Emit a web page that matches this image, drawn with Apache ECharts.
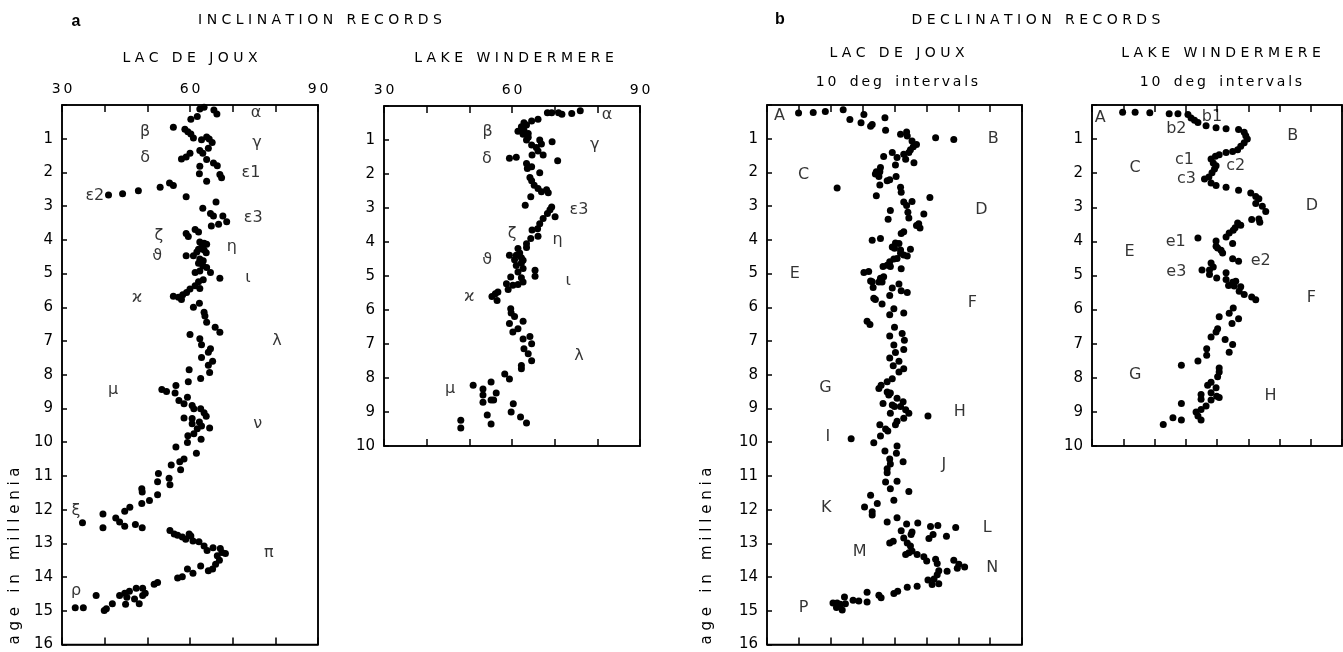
<!DOCTYPE html>
<html>
<head>
<meta charset="utf-8">
<title>Inclination and declination records</title>
<script src="https://cdn.jsdelivr.net/npm/echarts@6/dist/echarts.min.js"></script>
<style>
  html, body { margin: 0; padding: 0; background: #fff; }
  #chart { width: 1343px; height: 652px; }
</style>
</head>
<body>
<div id="chart"></div>
<script>
// inclination, Lac de Joux: [degrees, age in millenia]
const jouxIncl = [
  [62.3,0.12],[63.3,0.07],[65.6,0.15],[66.3,0.27],[60.2,0.42],[61.7,0.34],[56.1,0.66],[58.8,0.72],
  [59.5,0.79],[60.2,0.86],[60.8,0.98],[62.7,1.03],[63.9,0.95],[64.5,1.01],[65.2,1.11],[64.3,1.28],
  [62.3,1.35],[63.0,1.43],[60.0,1.43],[59.1,1.54],[58.0,1.60],[63.9,1.62],[65.5,1.72],[66.4,1.80],
  [62.3,1.82],[62.2,2.04],[67.0,2.06],[67.4,2.16],[63.9,2.26],
  [40.9,2.67],[44.2,2.63],[47.9,2.54],[53.0,2.44],[55.2,2.31],[56.1,2.39],[59.1,2.72],
  [63.0,3.06],[66.1,2.88],[64.8,3.22],[65.5,3.29],[67.7,3.29],[68.6,3.46],[66.7,3.54],[65.0,3.59],
  [59.1,3.81],[59.6,3.90],[61.2,3.69],[62.0,3.77],
  [62.3,4.06],[63.3,4.10],[63.9,4.13],[62.8,4.20],[63.3,4.30],[63.8,4.38],[62.0,4.28],[61.6,4.36],
  [60.8,4.47],[59.1,4.47],[62.3,4.57],[63.1,4.62],[62.0,4.69],[63.0,4.77],[63.9,4.82],[62.3,4.92],
  [61.2,4.97],[64.8,4.97],[67.0,5.14],[63.1,5.18],[62.0,5.24],[61.2,5.36],[62.3,5.44],[60.0,5.46],
  [59.2,5.56],[58.3,5.63],[56.1,5.67],[57.3,5.70],[58.0,5.77],[62.2,5.88],[60.8,6.00],[63.3,6.15],
  [63.5,6.26],[63.9,6.44],[65.9,6.59],[67.0,6.74],[60.0,6.81],[62.3,6.93],[62.7,7.11],[64.8,7.23],
  [64.3,7.33],[62.7,7.49],[65.3,7.60],[64.3,7.72],[64.6,7.93],[59.8,7.85],[62.5,8.11],[59.6,8.21],
  [53.4,8.44],[54.5,8.50],[56.7,8.32],[56.5,8.54],[59.4,8.67],[57.4,8.76],[58.6,8.86],[60.5,8.91],
  [60.9,9.01],[62.5,9.01],[63.3,9.13],[63.8,9.23],[58.6,9.28],[60.5,9.30],[60.5,9.45],[62.2,9.40],
  [62.7,9.52],[64.6,9.58],[61.7,9.60],[60.9,9.75],[59.5,9.81],[62.6,9.91],[59.4,10.01],[56.7,10.14],
  [61.5,10.33],[58.6,10.50],[57.6,10.58],[55.6,10.68],[57.8,10.82],[52.6,10.93],[55.1,11.07],
  [52.4,11.17],[55.3,11.26],[48.7,11.38],[48.8,11.48],[52.4,11.56],[50.5,11.73],[48.7,11.82],
  [45.9,11.93],[44.7,12.05],[42.6,12.25],[39.6,12.13],[43.5,12.37],[44.7,12.49],[47.2,12.44],
  [48.8,12.54],[39.6,12.54],[34.8,12.39],
  [55.3,12.62],[56.3,12.72],[57.1,12.76],[58.2,12.81],[59.0,12.88],[59.8,12.72],[60.2,12.78],
  [60.7,12.93],[62.1,12.95],[63.3,13.08],[64.0,13.21],[65.4,13.13],[67.1,13.15],[67.5,13.27],
  [68.3,13.30],[66.4,13.37],[66.9,13.50],[66.0,13.62],[65.3,13.76],[64.3,13.81],[62.5,13.67],
  [60.7,13.89],[59.4,13.76],[58.2,13.99],[57.1,14.03],[52.4,14.16],[51.6,14.21],[48.9,14.33],
  [47.4,14.33],[45.8,14.42],[44.7,14.48],[43.5,14.55],[45.2,14.60],[47.0,14.65],[48.1,14.79],
  [48.9,14.55],[49.5,14.48],[44.9,14.81],[41.8,14.79],[40.4,14.94],[39.9,14.99],[38.0,14.55],
  [35.0,14.91],[33.1,14.91]
];

// inclination, Lake Windermere
const windIncl = [
  [68.3,0.20],[69.3,0.20],[70.9,0.20],[71.7,0.24],[74.0,0.22],[76.0,0.14],[64.6,0.44],[66.1,0.39],
  [62.8,0.49],[63.4,0.56],[62.2,0.61],[62.8,0.71],[61.4,0.74],[63.8,0.81],[62.6,0.83],[63.8,0.92],
  [63.4,1.00],[66.5,1.00],[66.9,1.12],[69.4,1.05],[64.6,1.15],[65.7,1.22],[66.1,1.32],[67.3,1.44],
  [64.7,1.44],[70.7,1.61],[59.4,1.54],[61.0,1.51],[63.4,1.69],[63.6,1.84],[64.6,1.79],[66.5,1.96],
  [64.2,2.10],[64.6,2.20],[65.2,2.33],[66.1,2.43],[66.9,2.52],[68.1,2.46],[68.5,2.55],[64.4,2.67],
  [63.1,2.92],[69.3,2.97],[68.9,3.05],[68.3,3.16],[70.1,3.26],[67.3,3.31],[66.5,3.46],[66.0,3.61],
  [64.7,3.65],[66.1,3.83],[64.4,3.90],[63.4,4.05],[63.4,4.16],[61.4,4.19],[61.8,4.32],[61.0,4.39],
  [59.4,4.39],[62.2,4.46],[60.6,4.52],[62.6,4.54],[62.2,4.62],[61.0,4.69],[62.6,4.78],[61.4,4.88],
  [59.7,5.03],[62.2,5.05],[65.4,4.83],[65.4,5.01],[62.6,5.18],[61.4,5.25],[60.2,5.27],[58.7,5.23],
  [59.1,5.40],[56.7,5.47],[56.1,5.52],[55.3,5.60],[56.5,5.72],[59.7,5.96],[59.8,6.09],[60.6,6.19],
  [62.6,6.33],[59.4,6.40],[61.4,6.55],[60.2,6.65],[62.6,6.85],[64.2,6.78],[64.6,6.99],[62.8,7.14],
  [63.8,7.29],[64.6,7.49],[62.2,7.63],[62.2,7.73],[58.3,7.88],[59.4,8.03],
  [50.9,8.21],[53.2,8.32],[53.2,8.50],[53.2,8.71],[55.1,8.12],[56.3,8.44],[55.1,8.65],[55.7,8.65],
  [60.3,8.76],[59.8,9.00],[54.2,9.09],[55.1,9.35],[62.0,9.15],[63.4,9.32],[48.0,9.24],[48.0,9.47]
];

// declination, Lac de Joux: [position in 10 degree steps (x10), age]
const jouxDecl = [
  [9.9,0.24],[14.5,0.22],[18.3,0.19],[23.9,0.14],[26.0,0.43],[29.5,0.53],[30.4,0.28],[32.5,0.63],
  [33.0,0.58],[37.0,0.38],[37.2,0.75],[41.9,0.87],[43.8,0.80],[44.0,0.92],[45.5,1.07],[45.9,1.24],
  [46.9,1.17],[45.0,1.33],[44.5,1.41],[52.9,0.97],[58.6,1.02],[39.3,1.41],[36.6,1.53],[40.8,1.56],
  [42.9,1.46],[43.5,1.61],[46.1,1.71],[40.3,1.78],[35.6,1.85],[35.4,1.98],[34.3,1.98],[34.0,2.05],
  [35.1,2.12],[37.7,2.25],[38.5,2.22],[40.5,2.12],[35.4,2.37],[22.0,2.46],[34.3,2.69],[41.9,2.44],
  [42.1,2.59],[42.9,2.88],[43.8,2.98],[45.5,2.86],[44.2,3.18],[44.5,3.35],[49.2,3.23],[51.1,2.74],
  [47.6,3.52],[46.9,3.57],[48.0,3.65],[38.7,3.13],[38.0,3.39],[42.9,3.76],[42.1,3.81],[35.6,3.96],
  [33.0,4.01],[40.3,4.09],[41.4,4.11],[39.3,4.21],[40.0,4.25],[41.9,4.30],[45.0,4.28],[44.0,4.48],
  [42.9,4.45],[41.9,4.40],[40.8,4.55],[39.8,4.57],[38.5,4.65],[37.7,4.75],[38.7,4.79],[36.4,4.79],
  [42.1,4.86],[30.4,4.97],[31.9,4.94],[36.6,5.09],[35.6,5.14],[36.1,5.25],[35.1,5.25],[33.0,5.24],
  [33.3,5.41],[32.5,5.22],[39.3,5.43],[41.4,5.31],[42.1,5.51],[44.0,5.56],[38.5,5.65],[34.0,5.77],
  [33.5,5.73],[36.1,5.90],[39.8,6.04],[38.5,6.22],[42.9,6.17],[31.4,6.41],[32.3,6.51],[40.0,6.59],
  [38.5,6.85],[42.4,6.78],[43.1,6.98],[39.8,7.12],[42.9,7.25],[40.3,7.34],
  [38.5,7.50],[41.4,7.60],[39.6,7.73],[42.9,7.82],[41.4,7.92],[39.3,8.12],[37.7,8.21],[35.1,8.41],
  [35.8,8.31],[37.7,8.51],[38.7,8.54],[38.2,8.60],[40.8,8.70],[36.4,8.85],[39.3,8.90],[42.7,8.80],
  [41.9,8.94],[43.5,9.04],[44.5,9.14],[42.9,9.29],[40.8,9.38],[40.3,9.48],[38.7,9.14],[40.0,8.94],
  [50.5,9.22],[35.4,9.48],[37.2,9.61],[37.9,9.67],[35.6,9.82],[33.5,10.02],[26.4,9.90],[37.0,10.26],
  [40.8,10.11],[40.6,10.33],[42.7,10.58],[38.5,10.50],[38.7,10.65],[37.7,10.79],[37.7,10.91],
  [37.2,11.18],[40.8,11.16],[38.7,11.38],[44.5,11.46],[39.8,11.72],[32.5,11.57],[34.6,11.82],
  [30.6,11.92],[33.0,12.06],[33.0,12.16],[37.7,12.37],[40.8,12.24],[42.1,12.63],[43.8,12.43],
  [47.3,12.40],[45.5,12.66],[45.2,12.74],[42.9,12.84],[51.3,12.50],[53.6,12.47],[52.1,12.74],
  [50.8,12.86],[59.2,12.53],[56.3,12.79],[38.5,12.99],[39.6,12.94],[44.0,12.99],[45.0,13.08],
  [45.5,13.23],[44.5,13.28],[43.5,13.33],[47.1,13.33],[49.2,13.40],[50.1,13.52],[52.9,13.47],
  [53.4,13.60],[58.6,13.50],[60.2,13.62],[59.7,13.74],[62.0,13.70],[53.9,13.81],[56.5,13.83],
  [53.4,13.93],[52.4,14.06],[50.5,14.09],[53.9,14.20],[51.8,14.22],[47.1,14.27],[44.0,14.30],
  [41.0,14.42],[39.8,14.49],[35.1,14.54],[35.8,14.61],[31.4,14.45],[31.4,14.74],[28.8,14.71],
  [27.0,14.69],[24.3,14.59],[24.6,14.79],[23.0,14.81],[22.0,14.77],[20.7,14.77],[21.8,14.90],
  [23.6,14.98]
];

// declination, Lake Windermere
const windDecl = [
  [9.8,0.21],[13.8,0.21],[18.5,0.23],[24.7,0.26],[27.5,0.26],[30.7,0.28],[31.7,0.38],[32.8,0.45],
  [33.9,0.51],[36.5,0.61],[39.7,0.67],[42.9,0.70],[46.9,0.72],[48.7,0.80],[49.2,0.90],[49.7,1.00],
  [48.7,1.11],[47.6,1.21],[46.6,1.31],[45.0,1.36],[42.9,1.39],[40.7,1.46],[39.5,1.50],[38.1,1.58],
  [38.8,1.70],[39.7,1.78],[39.2,1.88],[38.4,1.99],[37.4,2.11],[36.0,2.17],[38.1,2.29],[39.7,2.36],
  [42.9,2.41],[46.9,2.50],[50.8,2.58],[52.4,2.68],[53.4,2.75],[52.4,2.89],[54.5,2.97],[55.6,3.12],
  [53.4,3.34],[53.7,3.44],[51.1,3.36],[47.6,3.53],[46.6,3.46],[45.8,3.60],[45.2,3.67],[43.9,3.75],
  [42.9,3.87],[45.0,4.06],[33.9,3.90],[39.7,3.99],[39.7,4.14],[40.2,4.19],[41.3,4.26],[41.8,4.34],
  [46.9,4.58],[45.0,4.51],[38.1,4.63],[38.8,4.75],[37.6,4.84],[35.2,4.84],[37.6,4.97],[39.9,5.07],
  [42.9,4.92],[42.9,5.12],[45.0,5.20],[46.0,5.17],[43.7,5.29],[45.5,5.31],[47.6,5.33],[47.1,5.46],
  [48.7,5.56],[51.1,5.63],[52.4,5.71],[45.2,5.95],[43.9,6.11],[46.9,6.27],[44.8,6.41],[40.7,6.21],
  [40.2,6.56],[39.7,6.66],[38.1,6.80],[42.6,6.88],[45.0,7.02],[43.9,7.25],[36.7,7.15],[36.7,7.34],
  [33.9,7.51],[28.6,7.63],[40.7,7.71],[40.7,7.83],[40.2,7.97],[38.1,8.13],[37.0,8.22],[39.7,8.29],
  [38.1,8.44],[34.9,8.49],[34.9,8.63],[38.1,8.65],[39.9,8.54],[40.7,8.58],[36.5,8.83],[34.9,8.93],
  [33.3,9.00],[33.9,9.12],[34.9,9.24],[28.6,8.75],[25.9,9.17],[28.6,9.24],[22.8,9.37]
];

// feature letters: [text, x, age]
const jouxInclTags = [
  ['α',75.5,0.24],['β',49.5,0.80],['γ',75.7,1.12],['δ',49.5,1.56],['ε1',74.3,2.01],['ε2',37.7,2.68],
  ['ε3',74.8,3.36],['ζ',52.7,3.89],['η',69.8,4.22],['ϑ',52.3,4.48],['ι',73.6,5.13],['ϰ',47.6,5.72],
  ['λ',80.4,6.99],['μ',42.0,8.44],['ν',75.9,9.47],['ξ',33.3,12.04],['π',78.5,13.27],['ρ',33.3,14.40]
];
const windInclTags = [
  ['α',82.3,0.27],['β',54.3,0.76],['γ',79.4,1.15],['δ',54.1,1.54],['ε3',75.7,3.06],['ζ',60.0,3.75],
  ['η',70.7,3.95],['ϑ',54.2,4.52],['ι',73.2,5.13],['ϰ',50.0,5.62],['λ',75.7,7.34],['μ',45.5,8.32]
];
const jouxDeclTags = [
  ['A',3.9,0.31],['B',71.0,0.99],['C',11.5,2.08],['D',67.3,3.11],['E',8.7,5.02],['F',64.4,5.87],
  ['G',18.3,8.40],['H',60.5,9.11],['I',19.1,9.84],['J',55.5,10.67],['K',18.6,11.96],['L',69.1,12.55],
  ['M',29.1,13.26],['N',70.7,13.73],['P',11.5,14.90]
];
const windDeclTags = [
  ['A',2.6,0.38],['b1',38.4,0.35],['b2',27.0,0.70],['B',64.2,0.90],['c1',29.6,1.60],['C',13.8,1.85],
  ['c2',46.0,1.78],['c3',30.2,2.17],['D',70.4,2.97],['e1',26.8,4.02],['E',12.0,4.32],['e2',54.0,4.56],
  ['e3',27.0,4.90],['F',70.2,5.65],['G',13.8,7.90],['H',57.1,8.54]
];

const FONT = 'DejaVu Sans';
const INK = '#000';

function spaced(s, gap) {
  return s.split(' ').map(w => w.split('').join(gap || ' ')).join('   ');
}

const panels = [
  { grid: { left: 62, top: 105, width: 256, height: 542 }, xmin: 30, xmax: 90, ymax: 16, labels: true },
  { grid: { left: 384, top: 106, width: 256, height: 340 }, xmin: 30, xmax: 90, ymax: 10, labels: true },
  { grid: { left: 767, top: 105, width: 255, height: 544 }, xmin: 0, xmax: 80, ymax: 16, labels: false },
  { grid: { left: 1092, top: 105, width: 250, height: 341 }, xmin: 0, xmax: 80, ymax: 10, labels: false }
];

const lineStyle = { color: INK, width: 1.5, opacity: 1 };
const grids = [], xAxes = [], yAxes = [];
panels.forEach((p, i) => {
  grids.push(Object.assign({ show: true, borderColor: INK, borderWidth: 1.5, containLabel: false }, p.grid));
  ['top', 'bottom'].forEach(pos => {
    xAxes.push({
      type: 'value', gridIndex: i, position: pos, min: p.xmin, max: p.xmax, interval: 10,
      axisLine: { show: true, onZero: false, lineStyle: lineStyle },
      axisTick: { show: true, inside: true, length: 7, lineStyle: lineStyle },
      axisLabel: {
        show: p.labels && pos === 'top', margin: 9, color: INK, fontFamily: FONT, fontSize: 14,
        formatter: v => (v % 30 === 0 ? String(v).split('').join('\u2009') : '')
      },
      splitLine: { show: false }
    });
  });
  ['left', 'right'].forEach(pos => {
    yAxes.push({
      type: 'value', gridIndex: i, position: pos, inverse: true, min: 0, max: p.ymax, interval: 1,
      axisLine: { show: true, onZero: false, lineStyle: lineStyle },
      axisTick: { show: pos === 'left', inside: true, length: 5, lineStyle: lineStyle },
      axisLabel: {
        show: pos === 'left', margin: 9, color: INK, fontFamily: FONT, fontSize: 15,
        formatter: v => (v === 0 ? '' : String(v))
      },
      splitLine: { show: false }
    });
  });
});

function dots(data, i) {
  return {
    type: 'scatter', xAxisIndex: i * 2, yAxisIndex: i * 2, data: data,
    symbol: 'circle', symbolSize: 7, itemStyle: { color: '#000', opacity: 1 }, silent: true
  };
}
function tags(list, i) {
  return {
    type: 'scatter', xAxisIndex: i * 2, yAxisIndex: i * 2,
    data: list.map(t => ({ name: t[0], value: [t[1], t[2]] })),
    symbolSize: 1, itemStyle: { color: 'rgba(0,0,0,0)' }, silent: true,
    label: { show: true, position: 'inside', formatter: '{b}', color: INK, fontFamily: FONT, fontSize: 16 }
  };
}

const headings = [
  { text: 'a', x: 76, y: 22, bold: true, size: 16 },
  { text: spaced('INCLINATION RECORDS'), x: 320, y: 20, size: 14 },
  { text: spaced('LAC DE JOUX'), x: 190, y: 58, size: 14 },
  { text: spaced('LAKE WINDERMERE'), x: 514, y: 58, size: 14 },
  { text: 'b', x: 780, y: 20, bold: true, size: 16 },
  { text: spaced('DECLINATION RECORDS'), x: 1036, y: 20, size: 14 },
  { text: spaced('LAC DE JOUX'), x: 897, y: 53, size: 14 },
  { text: spaced('10 deg intervals', '\u2009'), x: 897, y: 82, size: 14 },
  { text: spaced('LAKE WINDERMERE'), x: 1221, y: 53, size: 14 },
  { text: spaced('10 deg intervals', '\u2009'), x: 1221, y: 82, size: 14 }
];

const graphic = headings.map(h => ({
  type: 'text', x: h.x, y: h.y,
  style: {
    text: h.text, fill: INK, align: 'center', verticalAlign: 'middle',
    font: (h.bold ? 'bold ' : '') + h.size + 'px "' + (h.bold ? 'Liberation Sans' : FONT) + '"'
  }
}));
[15, 707].forEach(x => {
  graphic.push({
    type: 'text', x: x, y: 556, rotation: Math.PI / 2,
    style: { text: spaced('age in millenia'), fill: INK, align: 'center', verticalAlign: 'middle', font: '15px "' + FONT + '"' }
  });
});

const chart = echarts.init(document.getElementById('chart'), null, { renderer: 'canvas' });
chart.setOption({
  animation: false,
  backgroundColor: '#fff',
  grid: grids,
  xAxis: xAxes,
  yAxis: yAxes,
  graphic: graphic,
  series: [
    dots(jouxIncl, 0), dots(windIncl, 1), dots(jouxDecl, 2), dots(windDecl, 3),
    tags(jouxInclTags, 0), tags(windInclTags, 1), tags(jouxDeclTags, 2), tags(windDeclTags, 3)
  ]
});
</script>
</body>
</html>
